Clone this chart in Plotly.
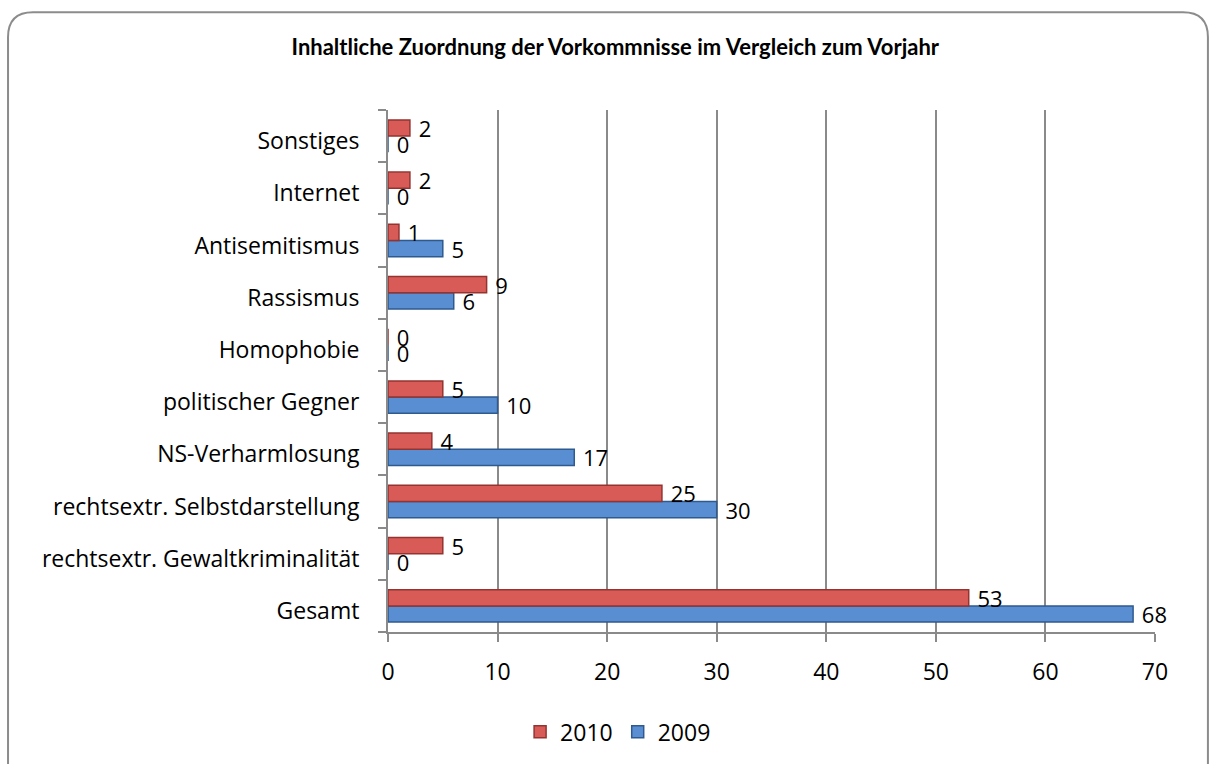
import plotly.graph_objects as go

categories = ["Gesamt", "rechtsextr. Gewaltkriminalität", "rechtsextr. Selbstdarstellung",
              "NS-Verharmlosung", "politischer Gegner", "Homophobie", "Rassismus",
              "Antisemitismus", "Internet", "Sonstiges"]
values_2010 = [53, 5, 25, 4, 5, 0, 9, 1, 2, 2]
values_2009 = [68, 0, 30, 17, 10, 0, 6, 5, 0, 0]
x_ticks = [0, 10, 20, 30, 40, 50, 60, 70]
title_text = "Inhaltliche Zuordnung der Vorkommnisse im Vergleich zum Vorjahr"

FONT = "Open Sans, sans-serif"
NBSP = "\u00a0"

fig = go.Figure()
fig.add_trace(go.Bar(
    y=categories, x=values_2009, orientation="h", name="2009",
    marker=dict(color="#5A8ED3", line=dict(color="#2F5A8E", width=1.5)),
    text=[NBSP + str(v) for v in values_2009], textposition="outside", constraintext="none",
    textfont=dict(family=FONT, size=22, color="#000000"),
    cliponaxis=False, legendrank=2,
))
fig.add_trace(go.Bar(
    y=categories, x=values_2010, orientation="h", name="2010",
    marker=dict(color="#D95B57", line=dict(color="#933431", width=1.5)),
    text=[NBSP + str(v) for v in values_2010], textposition="outside", constraintext="none",
    textfont=dict(family=FONT, size=22, color="#000000"),
    cliponaxis=False, legendrank=1,
))

fig.update_layout(
    width=1216, height=764,
    paper_bgcolor="white", plot_bgcolor="white",
    barmode="group", bargap=0.38, bargroupgap=0.0,
    margin=dict(l=388, r=61, t=110, b=131),
    title=dict(text="<b>" + title_text + "</b>", x=0.506, xanchor="center", y=0.9385, yanchor="middle",
               font=dict(family="Lato, sans-serif", size=22, color="#000000")),
    font=dict(family=FONT, size=24, color="#000000"),
    showlegend=True,
    legend=dict(orientation="h", x=0.30, xanchor="center", y=-0.189, yanchor="middle",
                font=dict(family=FONT, size=23), traceorder="normal"),
    xaxis=dict(range=[0, 70], tickvals=x_ticks, showgrid=True, gridcolor="#8A8A8A", gridwidth=2,
               zeroline=False, showline=True, linecolor="#8A8A8A", linewidth=2,
               ticks="outside", ticklen=8, tickcolor="#8A8A8A", tickwidth=2,
               ticklabelstandoff=10, tickfont=dict(family=FONT, size=23)),
    yaxis=dict(type="category", categoryorder="array", categoryarray=categories,
               showline=True, linecolor="#8A8A8A", linewidth=2,
               ticks="outside", tickson="boundaries", ticklen=8, tickcolor="#8A8A8A", tickwidth=2,
               ticklabelstandoff=22, ticklabelshift=5, tickfont=dict(family=FONT, size=23),
               showgrid=False),
    shapes=[dict(type="path", xref="paper", yref="paper",
                 path=("M -0.4954,-0.27 L -0.4954,1.1396 Q -0.4954,1.1874 -0.4628,1.1874 "
                       "L 1.0364,1.1874 Q 1.069,1.1874 1.069,1.1396 L 1.069,-0.27"),
                 line=dict(color="#8C8C8C", width=2))],
)

fig.write_html("out.html", config={"displayModeBar": False},
               post_script="document.body.style.margin='0';")
